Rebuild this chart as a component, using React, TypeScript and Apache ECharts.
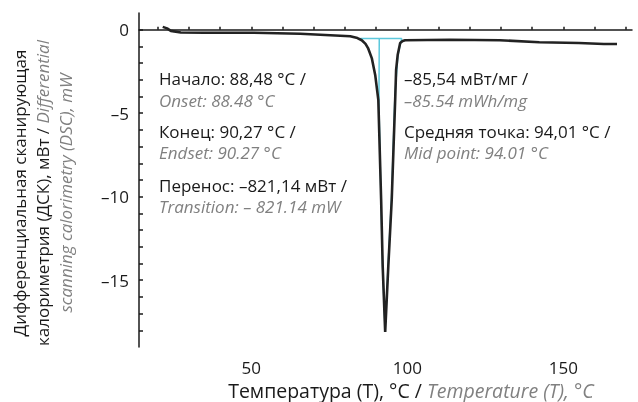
import React, { useEffect, useRef } from "react";
import * as echarts from "echarts";

// DSC curve (temperature °C, heat flow mW)
const temperature = [21.6, 23.0, 24.2, 27.4, 35, 49.8, 65.7, 75.3, 81.7, 84.0, 85.4, 86.6, 87.4, 88.6, 89.7, 90.7, 91.6, 92.1, 92.9, 93.9, 95.0, 96.1, 96.4, 96.9, 97.7, 98.5, 99.3, 113.6, 129.6, 142.3, 155.0, 163.0, 167.2];
const heatFlow = [0.17, 0.08, -0.07, -0.17, -0.18, -0.18, -0.24, -0.33, -0.39, -0.5, -0.63, -0.85, -1.1, -1.7, -2.71, -4.2, -10.17, -14.16, -18.1, -14.16, -10.17, -4.2, -2.41, -1.52, -0.8, -0.68, -0.63, -0.6, -0.63, -0.75, -0.8, -0.86, -0.86];

// cyan construction lines (baseline, onset drop, return branch)
const baselineT = [84.9, 98.2];
const baselineV = [-0.52, -0.52];
const onsetT = [91.0, 90.9, 91.55, 92.05, 92.85];
const onsetV = [-0.52, -4.4, -10.17, -14.16, -17.9];
const returnT = [98.2, 97.0, 96.0, 94.95, 93.85, 93.0];
const returnV = [-0.52, -1.5, -4.0, -10.0, -14.0, -17.6];

const xLabels = [50, 100, 150];
const xTicks = [20, 30, 40, 50, 60, 70, 80, 90, 100, 110, 120, 130, 140, 150, 160, 170];
const yLabels = [0, -5, -10, -15];
const yTicks = [-18, -17, -16, -15, -14, -13, -12, -11, -10, -9, -8, -7, -6, -5, -4, -3, -2, -1, 0];

const leftNotes = [
  ["Начало: 88,48 °C /", "Onset: 88.48 °C"],
  ["Конец: 90,27 °C /", "Endset: 90.27 °C"],
  ["Перенос: –821,14 мВт /", "Transition: – 821.14 mW"],
];
const rightNotes = [
  ["–85,54 мВт/мг /", "–85.54 mWh/mg"],
  ["Средняя точка: 94,01 °C /", "Mid point: 94.01 °C"],
];

const FONT = '"Open Sans", "Noto Sans", sans-serif';
const DARK = "#1a1a1a";
const GRAY = "#808080";
const CYAN = "#5cc8dc";

const zip = (a: number[], b: number[]) => a.map((v, i) => [v, b[i]]);

export default function App() {
  const ref = useRef<HTMLDivElement>(null);
  useEffect(() => {
    if (!ref.current) return;
    const chart = echarts.init(ref.current, undefined, { renderer: "svg" });

    const pairY = [[78, 100], [131, 152], [185, 206]];
    const noteGraphics: any[] = [];
    const addNotes = (notes: string[][], x: number) => {
      notes.forEach((pair, i) => {
        noteGraphics.push({
          type: "text",
          x,
          y: pairY[i][0],
          style: { text: pair[0], fill: DARK, fontSize: 17, fontFamily: FONT, textAlign: "left", textVerticalAlign: "middle" },
        });
        noteGraphics.push({
          type: "text",
          x,
          y: pairY[i][1],
          style: { text: pair[1], fill: GRAY, fontSize: 17, fontStyle: "italic", fontFamily: FONT, textAlign: "left", textVerticalAlign: "middle" },
        });
      });
    };
    addNotes(leftNotes, 159);
    addNotes(rightNotes, 404);

    const richY = {
      a: { fill: DARK, fontSize: 17, fontFamily: FONT, lineHeight: 23 },
      b: { fill: GRAY, fontSize: 17, fontFamily: FONT, fontStyle: "italic", lineHeight: 23 },
    };
    const richX = {
      a: { fill: DARK, fontSize: 19.5, fontFamily: FONT, lineHeight: 20 },
      b: { fill: GRAY, fontSize: 19.5, fontFamily: FONT, fontStyle: "italic", lineHeight: 20 },
    };

    chart.setOption({
      animation: false,
      grid: { left: 139, right: 6, top: 13, bottom: 55 },
      xAxis: {
        type: "value",
        min: 14,
        max: 172,
        axisLine: { show: true, lineStyle: { color: DARK, width: 1.5 } },
        axisTick: { show: true, inside: true, length: 3, customValues: xTicks, lineStyle: { color: DARK, width: 1.5 } },
        axisLabel: { customValues: xLabels, color: DARK, fontSize: 17, fontFamily: FONT, margin: 11, lineHeight: 18 },
        splitLine: { show: false },
      },
      yAxis: {
        type: "value",
        min: -19,
        max: 1,
        axisLine: { show: true, lineStyle: { color: DARK, width: 1.5 } },
        axisTick: { show: true, inside: true, length: 4, customValues: yTicks, lineStyle: { color: DARK, width: 1.5 } },
        axisLabel: {
          customValues: yLabels,
          color: DARK,
          fontSize: 17,
          fontFamily: FONT,
          margin: 10,
          formatter: (v: number) => (v < 0 ? "–" + Math.abs(v) : String(v)),
        },
        splitLine: { show: false },
      },
      series: [
        { type: "line", data: zip(baselineT, baselineV), symbol: "none", lineStyle: { color: CYAN, width: 1.5 }, z: 1 },
        { type: "line", data: zip(onsetT, onsetV), symbol: "none", lineStyle: { color: CYAN, width: 1.5 }, z: 1 },
        { type: "line", data: zip(returnT, returnV), symbol: "none", lineStyle: { color: CYAN, width: 1.5 }, z: 1 },
        { type: "line", data: zip(temperature, heatFlow), symbol: "none", lineStyle: { color: "#222222", width: 2.6 }, z: 2 },
      ],
      graphic: [
        ...noteGraphics,
        {
          type: "text",
          x: 411,
          y: 390,
          style: {
            text: "{a|Температура (Т), °C / }{b|Temperature (T), °C}",
            rich: richX,
            textAlign: "center",
            textVerticalAlign: "middle",
          },
        },
        {
          type: "text",
          x: 42,
          y: 193,
          rotation: Math.PI / 2,
          style: {
            text: "{a|Дифференциальная сканирующая}\n{a|калориметрия (ДСК), мВт / }{b|Differential}\n{b|scanning calorimetry (DSC), mW}",
            rich: richY,
            textAlign: "center",
            textVerticalAlign: "middle",
          },
        },
      ],
    });
    return () => chart.dispose();
  }, []);
  return <div ref={ref} style={{ position: "fixed", left: 0, top: 0, width: 638, height: 402 }} />;
}
